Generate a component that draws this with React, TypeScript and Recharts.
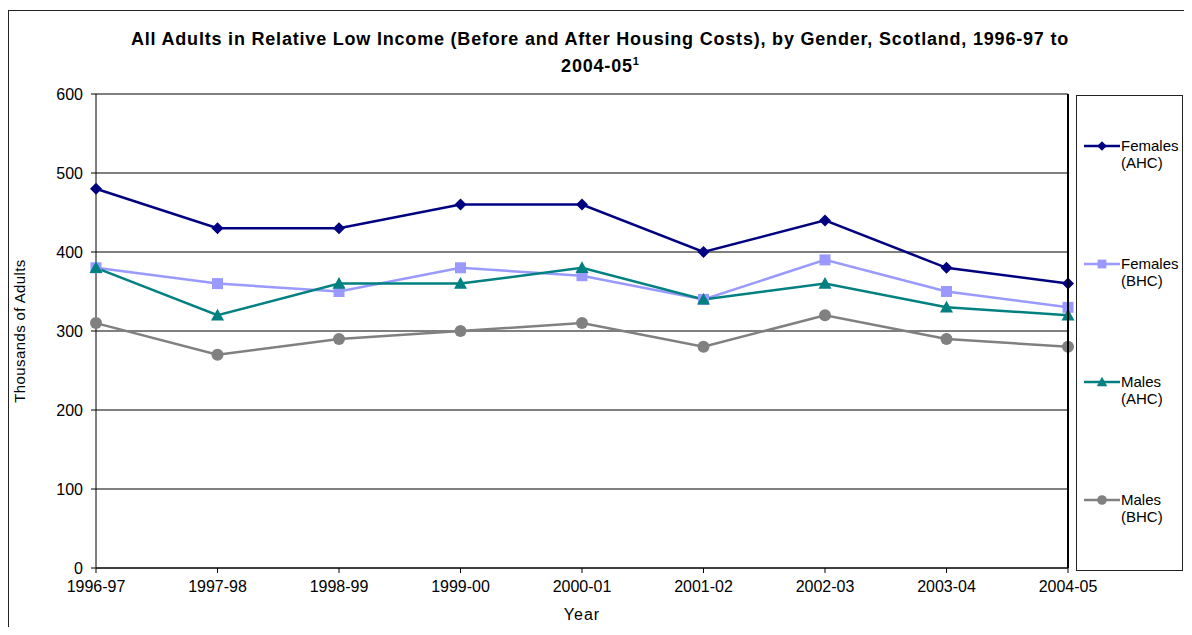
import React from 'react';
import { LineChart, Line, XAxis, YAxis, CartesianGrid } from 'recharts';

const years = ['1996-97', '1997-98', '1998-99', '1999-00', '2000-01', '2001-02', '2002-03', '2003-04', '2004-05'];
const femalesAHC = [480, 430, 430, 460, 460, 400, 440, 380, 360];
const femalesBHC = [380, 360, 350, 380, 370, 340, 390, 350, 330];
const malesAHC = [380, 320, 360, 360, 380, 340, 360, 330, 320];
const malesBHC = [310, 270, 290, 300, 310, 280, 320, 290, 280];
const yTicks = [0, 100, 200, 300, 400, 500, 600];

const data = years.map((y, i) => ({
  year: y,
  fAHC: femalesAHC[i],
  fBHC: femalesBHC[i],
  mAHC: malesAHC[i],
  mBHC: malesBHC[i],
}));

const series = [
  { key: 'fAHC', l1: 'Females', l2: '(AHC)', color: '#000080', shape: 'diamond' },
  { key: 'fBHC', l1: 'Females', l2: '(BHC)', color: '#9999FF', shape: 'square' },
  { key: 'mAHC', l1: 'Males', l2: '(AHC)', color: '#008080', shape: 'triangle' },
  { key: 'mBHC', l1: 'Males', l2: '(BHC)', color: '#808080', shape: 'circle' },
];

const FONT = '"Liberation Sans", Arial, sans-serif';

const Marker = ({ cx, cy, shape, color, s = 1 }: any) => {
  if (cx == null || cy == null) return null;
  if (shape === 'diamond') {
    const r = 6 * s;
    return <polygon points={`${cx},${cy - r} ${cx + r},${cy} ${cx},${cy + r} ${cx - r},${cy}`} fill={color} />;
  }
  if (shape === 'square') {
    const r = 5.5 * s;
    return <rect x={cx - r} y={cy - r} width={r * 2} height={r * 2} fill={color} />;
  }
  if (shape === 'triangle') {
    const r = 6.5 * s;
    return <polygon points={`${cx},${cy - r} ${cx + r},${cy + r * 0.8} ${cx - r},${cy + r * 0.8}`} fill={color} />;
  }
  return <circle cx={cx} cy={cy} r={6 * s} fill={color} />;
};

const LegendBox = () => (
  <div
    style={{
      position: 'absolute',
      left: 1068,
      top: 87,
      width: 107,
      height: 476,
      border: '1.5px solid #222',
      boxSizing: 'border-box',
      fontFamily: FONT,
      fontSize: 15,
      color: '#000',
    }}
  >
    {series.map((s, i) => (
      <div key={s.key} style={{ position: 'absolute', left: 6, top: 40 + i * 118, display: 'flex' }}>
        <svg width={38} height={20}>
          <line x1={1} y1={10} x2={37} y2={10} stroke={s.color} strokeWidth={2.5} />
          <Marker cx={19} cy={10} shape={s.shape} color={s.color} s={0.8} />
        </svg>
        <div style={{ lineHeight: '17px', marginTop: 1 }}>
          {s.l1}
          <br />
          {s.l2}
        </div>
      </div>
    ))}
  </div>
);

const App: React.FC = () => {
  return (
    <div
      style={{
        position: 'relative',
        width: 1184,
        height: 627,
        marginBottom: -8,
        background: '#fff',
      }}
    >
      {/* outer chart frame: only top and left edges fall inside the picture */}
      <div
        style={{
          position: 'absolute',
          left: 0,
          top: 2,
          width: 1184,
          height: 625,
          borderTop: '1.5px solid #222',
          borderLeft: '1.5px solid #222',
          boxSizing: 'border-box',
        }}
      />
      <div
        style={{
          position: 'absolute',
          left: 0,
          top: 20,
          width: 1184,
          textAlign: 'center',
          fontFamily: FONT,
          fontWeight: 'bold',
          fontSize: 18,
          letterSpacing: 0.8,
          lineHeight: '22px',
          color: '#000',
        }}
      >
        All Adults in Relative Low Income (Before and After Housing Costs), by Gender, Scotland, 1996-97 to
        <br />
        2004-05<sup style={{ fontSize: 11, letterSpacing: 0 }}>1</sup>
      </div>
      <div style={{ position: 'absolute', left: 0, top: 0 }}>
        <LineChart
          width={1184}
          height={627}
          data={data}
          margin={{ top: 86, right: 124, bottom: 37, left: 0 }}
          style={{ fontFamily: FONT }}
        >
          <CartesianGrid horizontal vertical={false} stroke="#000" strokeWidth={1} />
          <XAxis
            dataKey="year"
            stroke="#000"
            tickSize={5}
            tickMargin={8}
            height={30}
            tick={{ fill: '#000', fontSize: 16 }}
            interval={0}
            label={{
              content: (p: any) => {
                const vb = p.viewBox;
                return (
                  <text
                    x={vb.x + vb.width / 2}
                    y={612}
                    textAnchor="middle"
                    fontSize={16}
                    letterSpacing={1}
                    fill="#000"
                  >
                    Year
                  </text>
                );
              },
            }}
          />
          <YAxis
            domain={[0, 600]}
            ticks={yTicks}
            width={88}
            stroke="#000"
            tickSize={5}
            tickMargin={8}
            tick={{ fill: '#000', fontSize: 16 }}
            label={{
              content: (p: any) => {
                const vb = p.viewBox;
                const cy = vb.y + vb.height / 2;
                return (
                  <text
                    x={17}
                    y={cy}
                    transform={`rotate(-90, 17, ${cy})`}
                    textAnchor="middle"
                    fontSize={15}
                    letterSpacing={0.4}
                    fill="#000"
                  >
                    Thousands of Adults
                  </text>
                );
              },
            }}
          />
          {series.map((s) => (
            <Line
              key={s.key}
              dataKey={s.key}
              stroke={s.color}
              strokeWidth={2.5}
              type="linear"
              isAnimationActive={false}
              dot={(p: any) => <Marker key={`${s.key}-${p.index}`} cx={p.cx} cy={p.cy} shape={s.shape} color={s.color} />}
              activeDot={false}
            />
          ))}
        </LineChart>
      </div>
      <div
        style={{
          position: 'absolute',
          left: 1059,
          top: 86,
          width: 1.5,
          height: 474,
          background: '#000',
        }}
      />
      <LegendBox />
    </div>
  );
};

export default App;
